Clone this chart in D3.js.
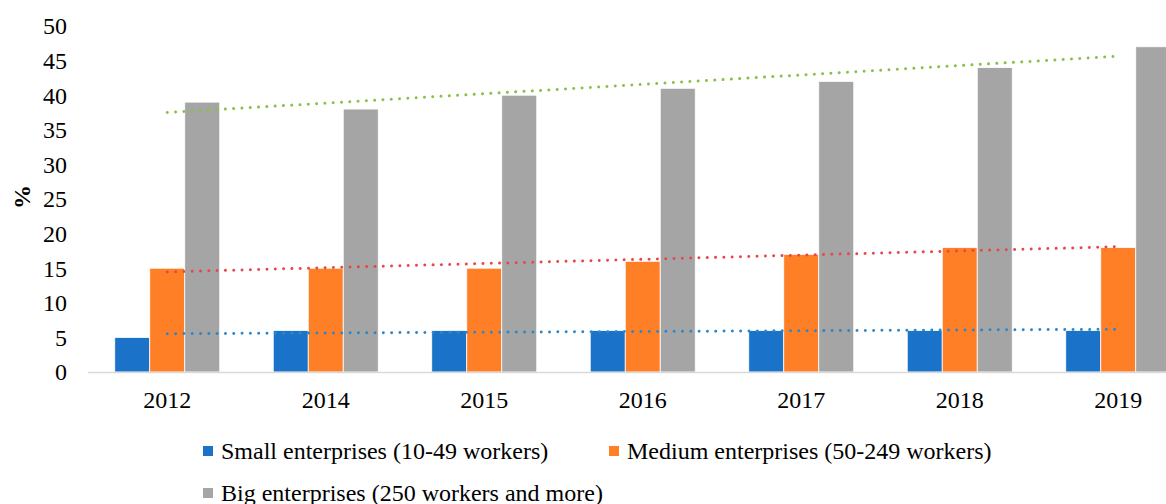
<!DOCTYPE html>
<html><head><meta charset="utf-8">
<script src="https://cdn.jsdelivr.net/npm/d3@7"></script>
<style>html,body{margin:0;padding:0;background:#fff;overflow:hidden}svg{display:block}
svg text{font-family:"Liberation Serif","Times New Roman","DejaVu Serif",serif;}</style>
</head><body><svg id="c" width="1166" height="504"></svg>
<script>
const categories = ["2012","2014","2015","2016","2017","2018","2019"];
const seriesNames = ["Small enterprises (10-49 workers)","Medium enterprises (50-249 workers)","Big enterprises (250 workers and more)"];
const small = [5,6,6,6,6,6,6];
const medium = [15,15,15,16,17,18,18];
const big = [39,38,40,41,42,44,47];
const yTicks = [0,5,10,15,20,25,30,35,40,45,50];
const barColors = ["#1a73c8","#ff7f27","#a5a5a5"];
const trendColors = ["#2e86c8","#e5474b","#8bbf45"];

const svg = d3.select("#c");
const fs = 24;
const x = d3.scaleBand().domain(categories).range([88,1197.5]).paddingInner(0.3375).paddingOuter(0.16875);
const xs = d3.scaleBand().domain([0,1,2]).range([0,x.bandwidth()]);
const y = d3.scaleLinear().domain([0,50]).range([372,26]);
const series = [small, medium, big];

series.forEach((vals,si)=>{
  svg.append("g").selectAll("rect").data(vals).join("rect")
    .attr("x",(d,i)=>x(categories[i])+xs(si))
    .attr("y",d=>y(d))
    .attr("width",xs.bandwidth())
    .attr("height",d=>y(0)-y(d))
    .attr("fill",barColors[si])
    .attr("stroke","#fff").attr("stroke-width",0.8);
});

svg.append("line").attr("x1",88).attr("x2",1197.5).attr("y1",y(0)+0.5).attr("y2",y(0)+0.5)
  .attr("stroke","#d9d9d9").attr("stroke-width",1.5);

series.forEach((vals,si)=>{
  const n = vals.length;
  const xsIdx = vals.map((_,i)=>i+1);
  const mx = d3.mean(xsIdx), my = d3.mean(vals);
  const slope = d3.sum(vals.map((v,i)=>(xsIdx[i]-mx)*(v-my)))/d3.sum(xsIdx.map(t=>(t-mx)*(t-mx)));
  const b = my - slope*mx;
  const cx = c=>x(c)+x.bandwidth()/2;
  svg.append("line")
    .attr("x1",cx(categories[0])).attr("y1",y(slope*1+b))
    .attr("x2",cx(categories[n-1])).attr("y2",y(slope*n+b))
    .attr("stroke",trendColors[si]).attr("stroke-width",3)
    .attr("stroke-linecap","round").attr("stroke-dasharray","0.01 8.3");
});

svg.append("g").selectAll("text").data(yTicks).join("text")
  .attr("x",67).attr("y",d=>y(d)).attr("dy","0.35em").attr("text-anchor","end")
  .attr("font-size",fs).attr("fill","#000").text(d=>d);

svg.append("g").selectAll("text").data(categories).join("text")
  .attr("x",d=>x(d)+x.bandwidth()/2).attr("y",400).attr("dy","0.35em").attr("text-anchor","middle")
  .attr("font-size",fs).attr("fill","#000").text(d=>d);

svg.append("text").attr("transform","translate(22,197) rotate(-90)").attr("text-anchor","middle")
  .attr("dy","0.35em").attr("font-size",fs).attr("font-weight","bold").text("%");

const legendPos = [[203,451],[609,451],[203,493]];
seriesNames.forEach((name,i)=>{
  const [lx,ly] = legendPos[i];
  svg.append("rect").attr("x",lx).attr("y",ly-5).attr("width",10).attr("height",10).attr("fill",barColors[i]);
  svg.append("text").attr("x",lx+18).attr("y",ly).attr("dy","0.35em")
    .attr("font-size",fs).attr("fill","#000").text(name);
});
</script></body></html>
